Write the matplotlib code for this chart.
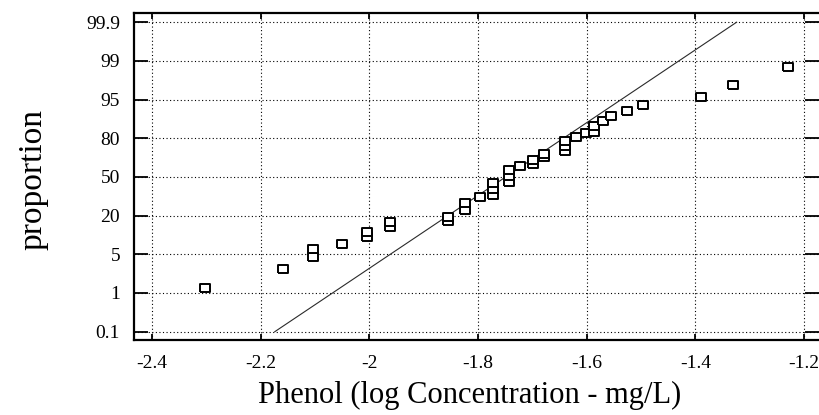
import matplotlib.pyplot as plt
import numpy as np
from matplotlib.ticker import FixedLocator

plt.rcParams["font.family"] = ["Liberation Serif", "DejaVu Serif"]
plt.rcParams["axes.unicode_minus"] = False

# probability axis labels (equally spaced on the original chart)
prob_ticks = [0.1, 1, 5, 20, 50, 80, 95, 99, 99.9]
prob_labels = ["0.1", "1", "5", "20", "50", "80", "95", "99", "99.9"]
x_ticks = [-2.4, -2.2, -2.0, -1.8, -1.6, -1.4, -1.2]
x_labels = ["-2.4", "-2.2", "-2", "-1.8", "-1.6", "-1.4", "-1.2"]

# observations: log concentration (mg/L) and cumulative proportion (%)
log_conc = [-2.302, -2.158, -2.104, -2.104, -2.050, -2.005, -2.005, -1.962, -1.962,
            -1.855, -1.855, -1.824, -1.824, -1.796, -1.772, -1.772, -1.772,
            -1.743, -1.743, -1.743, -1.723, -1.698, -1.698, -1.678, -1.678,
            -1.639, -1.639, -1.639, -1.620, -1.602, -1.586, -1.586, -1.570,
            -1.555, -1.525, -1.497, -1.389, -1.331, -1.229]
proportion = [1.55, 3.49, 4.70, 6.98, 9.04, 11.6, 13.8, 15.5, 17.7,
              18.1, 19.6, 24.1, 29.9, 34.2, 36.1, 40.5, 45.2,
              46.4, 50.8, 55.5, 58.1, 60.4, 63.0, 65.2, 67.9,
              69.9, 74.1, 78.0, 80.4, 82.0, 82.6, 84.6, 86.5,
              88.5, 90.7, 92.9, 95.3, 96.5, 98.4]

# fitted normal reference line (end points at 0.1 % and 99.9 %)
fit_x = [-2.174, -1.324]
fit_p = [0.1, 99.9]

positions = np.arange(len(prob_ticks), dtype=float)


def interp_ext(v, xp, fp):
    v = np.asarray(v, dtype=float)
    xp = np.asarray(xp, dtype=float)
    fp = np.asarray(fp, dtype=float)
    s0 = (fp[1] - fp[0]) / (xp[1] - xp[0])
    s1 = (fp[-1] - fp[-2]) / (xp[-1] - xp[-2])
    out = np.interp(v, xp, fp)
    out = np.where(v < xp[0], fp[0] + (v - xp[0]) * s0, out)
    out = np.where(v > xp[-1], fp[-1] + (v - xp[-1]) * s1, out)
    return out


def forward(p):
    return interp_ext(p, prob_ticks, positions)


def inverse(q):
    return interp_ext(q, positions, prob_ticks)


W, H = 819, 415
fig = plt.figure(figsize=(W / 100, H / 100), dpi=100)
ax = fig.add_axes([134 / W, 1 - 340 / H, (W - 134) / W, (340 - 13.3) / H])
ax.set_yscale("function", functions=(forward, inverse))

ax.plot(fit_x, fit_p, color="#2a2a2a", lw=0.8, zorder=2)

rect = [(-1, -0.8), (1, -0.8), (1, 0.8), (-1, 0.8), (-1, -0.8)]
ax.plot(log_conc, proportion, linestyle="none", marker=rect, markersize=7.6,
        markerfacecolor="white", markeredgecolor="black", markeredgewidth=1.4,
        zorder=3)

ax.set_xlim(-2.4331, -1.1724)
ax.set_ylim(float(inverse(-0.215)), float(inverse(8.23)))

ax.xaxis.set_major_locator(FixedLocator(x_ticks))
ax.set_xticklabels(x_labels)
ax.yaxis.set_major_locator(FixedLocator(prob_ticks))
ax.yaxis.set_minor_locator(FixedLocator([]))
ax.set_yticklabels(prob_labels)

ax.grid(True, color="black", linestyle=(0, (1, 2.2)), linewidth=0.8)

for side in ["left", "bottom", "top"]:
    ax.spines[side].set_linewidth(1.6)
ax.spines["right"].set_visible(False)

ax.tick_params(axis="y", which="major", direction="in", length=10, width=1.3,
               labelsize=14, pad=10, right=True)
ax.tick_params(axis="x", which="major", direction="in", length=4, width=1.3,
               labelsize=14, pad=11, top=True)

ax.set_xlabel("Phenol (log Concentration - mg/L)", fontsize=22)
ax.xaxis.set_label_coords((470 - 134) / (W - 134), -0.124)
ax.set_ylabel("proportion", fontsize=24)
ax.yaxis.set_label_coords((48 - 134) / (W - 134), 0.49)

fig.savefig("out.png", dpi=100)
